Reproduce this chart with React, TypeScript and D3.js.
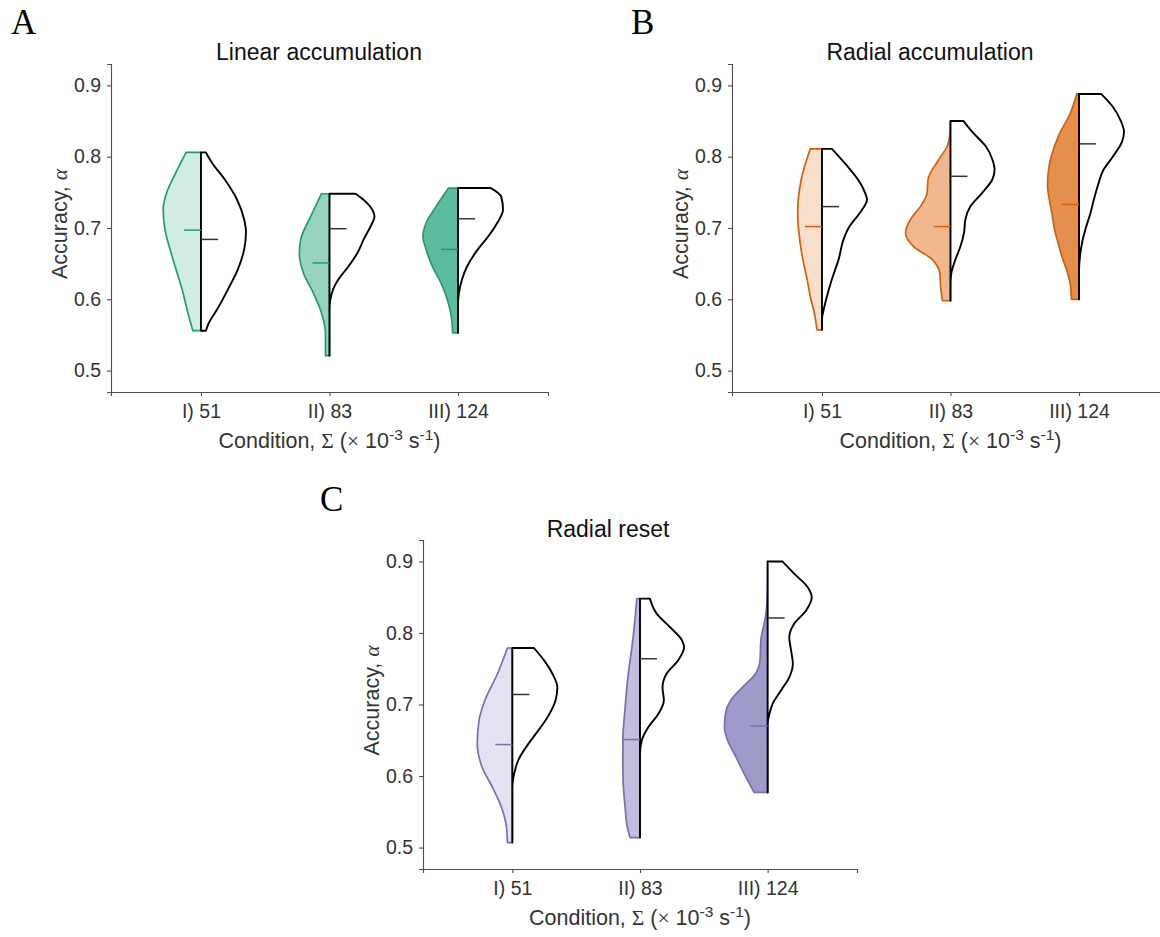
import React, { useEffect, useRef } from "react";
import * as d3 from "d3";

const categories = ["I) 51", "II) 83", "III) 124"];
const yTicks = [0.5, 0.6, 0.7, 0.8, 0.9];
const panelLetters = ["A", "B", "C"];
const panelTitles = ["Linear accumulation", "Radial accumulation", "Radial reset"];
const palette = ["#1b9e77", "#d95f02", "#7570b3"];
const fillAlpha = [0.2, 0.45, 0.7];

type Profile = [number, number][]; // [accuracy, density]

// left halves (coloured)
const linearLeft: Profile[] = [
  [[0.806, 0.33], [0.775, 0.58], [0.75, 0.76], [0.726, 0.84], [0.698, 0.8], [0.66, 0.64], [0.614, 0.42], [0.576, 0.27], [0.556, 0.18]],
  [[0.748, 0.18], [0.716, 0.42], [0.684, 0.64], [0.665, 0.67], [0.637, 0.58], [0.609, 0.36], [0.581, 0.18], [0.553, 0.09], [0.521, 0.09]],
  [[0.756, 0.21], [0.73, 0.49], [0.707, 0.71], [0.688, 0.78], [0.67, 0.71], [0.646, 0.57], [0.623, 0.38], [0.6, 0.24], [0.576, 0.15], [0.553, 0.12]],
];
// right halves (black outline)
const linearRight: Profile[] = [
  [[0.806, 0.11], [0.792, 0.24], [0.768, 0.53], [0.74, 0.8], [0.712, 0.96], [0.694, 1.0], [0.67, 0.96], [0.642, 0.82], [0.614, 0.6], [0.586, 0.36], [0.565, 0.16], [0.556, 0.11]],
  [[0.748, 0.58], [0.736, 0.82], [0.716, 1.0], [0.702, 0.91], [0.684, 0.76], [0.665, 0.62], [0.646, 0.42], [0.628, 0.2], [0.614, 0.08], [0.6, 0.02], [0.586, 0], [0.521, 0]],
  [[0.756, 0.73], [0.744, 0.96], [0.726, 1.0], [0.707, 0.87], [0.688, 0.67], [0.67, 0.44], [0.646, 0.2], [0.628, 0.09], [0.609, 0.02], [0.595, 0], [0.553, 0]],
];
const linearMedians = [[0.697, 0.684], [0.651, 0.699], [0.67, 0.713]];

const radialLeft: Profile[] = [
  [[0.811, 0.26], [0.768, 0.46], [0.721, 0.54], [0.698, 0.52], [0.651, 0.41], [0.628, 0.33], [0.604, 0.26], [0.581, 0.17], [0.557, 0.11]],
  [[0.85, 0], [0.833, 0.01], [0.815, 0.07], [0.796, 0.26], [0.768, 0.5], [0.749, 0.52], [0.73, 0.67], [0.712, 0.89], [0.693, 1.0], [0.674, 0.82], [0.656, 0.41], [0.637, 0.24], [0.618, 0.22], [0.598, 0.18]],
  [[0.888, 0.05], [0.86, 0.2], [0.83, 0.45], [0.8, 0.62], [0.78, 0.68], [0.76, 0.7], [0.74, 0.66], [0.72, 0.6], [0.7, 0.55], [0.68, 0.47], [0.66, 0.38], [0.64, 0.27], [0.62, 0.19], [0.6, 0.17]],
];
const radialRight: Profile[] = [
  [[0.811, 0.22], [0.787, 0.56], [0.768, 0.8], [0.749, 0.96], [0.74, 1.0], [0.721, 0.84], [0.702, 0.61], [0.684, 0.48], [0.656, 0.37], [0.628, 0.22], [0.604, 0.11], [0.586, 0.04], [0.572, 0], [0.557, 0]],
  [[0.85, 0.29], [0.833, 0.51], [0.815, 0.78], [0.796, 0.93], [0.782, 0.98], [0.768, 0.93], [0.749, 0.7], [0.73, 0.44], [0.712, 0.33], [0.693, 0.3], [0.674, 0.22], [0.656, 0.11], [0.637, 0.02], [0.623, 0], [0.598, 0]],
  [[0.888, 0.49], [0.87, 0.75], [0.85, 0.93], [0.835, 1.0], [0.82, 0.95], [0.8, 0.75], [0.78, 0.53], [0.76, 0.42], [0.74, 0.33], [0.72, 0.25], [0.7, 0.15], [0.68, 0.07], [0.66, 0.02], [0.64, 0], [0.6, 0]],
];
const radialMedians = [[0.702, 0.73], [0.702, 0.7725], [0.733, 0.818]];

const resetLeft: Profile[] = [
  [[0.779, 0.11], [0.743, 0.33], [0.706, 0.61], [0.678, 0.74], [0.645, 0.78], [0.612, 0.67], [0.584, 0.44], [0.556, 0.24], [0.528, 0.13], [0.507, 0.11]],
  [[0.848, 0.07], [0.79, 0.16], [0.743, 0.26], [0.696, 0.33], [0.65, 0.38], [0.603, 0.38], [0.556, 0.33], [0.528, 0.28], [0.514, 0.22]],
  [[0.9, 0], [0.85, 0.01], [0.822, 0.05], [0.79, 0.15], [0.762, 0.17], [0.743, 0.27], [0.724, 0.56], [0.706, 0.82], [0.687, 0.94], [0.668, 0.96], [0.65, 0.89], [0.626, 0.7], [0.603, 0.52], [0.577, 0.3]],
];
const resetRight: Profile[] = [
  [[0.779, 0.48], [0.762, 0.7], [0.743, 0.89], [0.724, 1.0], [0.706, 0.96], [0.682, 0.78], [0.659, 0.52], [0.64, 0.3], [0.622, 0.13], [0.603, 0.04], [0.584, 0], [0.507, 0]],
  [[0.848, 0.22], [0.827, 0.37], [0.808, 0.67], [0.79, 0.93], [0.78, 0.98], [0.762, 0.85], [0.743, 0.59], [0.724, 0.5], [0.706, 0.53], [0.687, 0.41], [0.668, 0.18], [0.65, 0.04], [0.631, 0], [0.514, 0]],
  [[0.9, 0.33], [0.883, 0.59], [0.864, 0.89], [0.85, 0.98], [0.831, 0.85], [0.813, 0.59], [0.794, 0.48], [0.776, 0.52], [0.757, 0.56], [0.738, 0.48], [0.72, 0.3], [0.701, 0.11], [0.687, 0.04], [0.673, 0], [0.577, 0]],
];
const resetMedians = [[0.644, 0.714], [0.651, 0.764], [0.67, 0.821]];

const leftHalves = [linearLeft, radialLeft, resetLeft];
const rightHalves = [linearRight, radialRight, resetRight];
const medians = [linearMedians, radialMedians, resetMedians];

const frames = [
  { x: 111, y: 64, w: 437, h: 328, titleX: 319, titleY: 60, letterX: 11, letterY: 34 },
  { x: 732, y: 64, w: 437, h: 328, titleX: 930, titleY: 60, letterX: 631, letterY: 34 },
  { x: 423, y: 540, w: 434, h: 329, titleX: 608, titleY: 537, letterX: 320, letterY: 511 },
];

const sans = "'Liberation Sans', Arial, sans-serif";
const serif = "'Liberation Serif', 'DejaVu Serif', serif";
const axisColor = "#4d4d4d";
const textColor = "#333333";

const tint = (c: string, a: number) => {
  const col = d3.rgb(c);
  const mix = (v: number) => Math.round(255 - a * (255 - v));
  return d3.rgb(mix(col.r), mix(col.g), mix(col.b)).formatHex();
};

const Panel = ({ idx }: { idx: number }) => {
  const f = frames[idx];
  const xAxisRef = useRef<SVGGElement>(null);
  const yAxisRef = useRef<SVGGElement>(null);

  const x = d3.scalePoint<string>().domain(categories).range([f.x, f.x + f.w]).padding(0.7);
  const y = d3.scaleLinear().domain([0.47, 0.93]).range([f.y + f.h, f.y]);
  const dens = d3.scaleLinear().domain([0, 1]).range([0, 45]);

  useEffect(() => {
    const xa = d3.select(xAxisRef.current!);
    xa.call(d3.axisBottom(x).tickSize(4).tickPadding(8) as any);
    const ya = d3.select(yAxisRef.current!);
    ya.call(d3.axisLeft(y).tickValues(yTicks).tickFormat(d3.format(".1f")).tickSize(4).tickPadding(6) as any);
    [xa, ya].forEach((g) => {
      g.select(".domain").attr("stroke", axisColor).attr("stroke-width", 1.1);
      g.selectAll(".tick line").attr("stroke", axisColor).attr("stroke-width", 1.1);
      g.selectAll(".tick text").attr("fill", textColor).attr("font-size", 19.5).attr("font-family", sans);
    });
  }, []);

  const halfPath = (cx: number, prof: Profile, dir: number) => {
    const line = d3
      .line<[number, number]>()
      .x((d) => cx + dir * dens(d[1]))
      .y((d) => y(d[0]))
      .curve(d3.curveMonotoneY);
    const body = line(prof) || "";
    const top = y(prof[0][0]);
    const bot = y(prof[prof.length - 1][0]);
    return `M${cx},${top}L${body.slice(1)}L${cx},${bot}Z`;
  };

  const cy = f.y + f.h / 2;

  return (
    <g>
      <text x={f.letterX} y={f.letterY} fontFamily={serif} fontSize={35} fill="#000">
        {panelLetters[idx]}
      </text>
      <text x={f.titleX} y={f.titleY} textAnchor="middle" fontFamily={sans} fontSize={23} fill="#111">
        {panelTitles[idx]}
      </text>
      <g ref={yAxisRef} transform={`translate(${f.x},0)`} />
      <g ref={xAxisRef} transform={`translate(0,${f.y + f.h})`} />
      <text
        transform={`translate(${f.x - 44},${cy - 4}) rotate(-90)`}
        textAnchor="middle"
        fontFamily={sans}
        fontSize={21.5}
        fill={textColor}
      >
        Accuracy,{" "}
        <tspan fontFamily={serif} fontStyle="italic">
          α
        </tspan>
      </text>
      <text x={f.x + f.w / 2} y={f.y + f.h + 56} textAnchor="middle" fontFamily={sans} fontSize={21.5} fill={textColor}>
        Condition, <tspan fontFamily={serif}>Σ</tspan> (<tspan fontFamily={serif}>×</tspan> 10
        <tspan dy={-8} fontSize={15.5}>-3</tspan>
        <tspan dy={8}> s</tspan>
        <tspan dy={-8} fontSize={15.5}>-1</tspan>
        <tspan dy={8}>)</tspan>
      </text>
      {categories.map((c, i) => {
        const cx = x(c)!;
        const col = palette[idx];
        const [ml, mr] = medians[idx][i];
        return (
          <g key={c}>
            <path
              d={halfPath(cx, leftHalves[idx][i], -1)}
              fill={tint(col, fillAlpha[i])}
              stroke={col}
              strokeWidth={1.7}
              strokeLinejoin="round"
            />
            <path
              d={halfPath(cx, rightHalves[idx][i], 1)}
              fill="#fff"
              stroke="#000"
              strokeWidth={1.9}
              strokeLinejoin="round"
            />
            <line x1={cx - 17} x2={cx} y1={y(ml)} y2={y(ml)} stroke={col} strokeWidth={1.5} />
            <line x1={cx} x2={cx + 17} y1={y(mr)} y2={y(mr)} stroke="#333" strokeWidth={1.5} />
          </g>
        );
      })}
    </g>
  );
};

export default function App() {
  return (
    <svg
      width={1160}
      height={937}
      style={{ position: "absolute", left: 0, top: 0, background: "#fff" }}
    >
      {frames.map((_, i) => (
        <Panel key={i} idx={i} />
      ))}
    </svg>
  );
}
